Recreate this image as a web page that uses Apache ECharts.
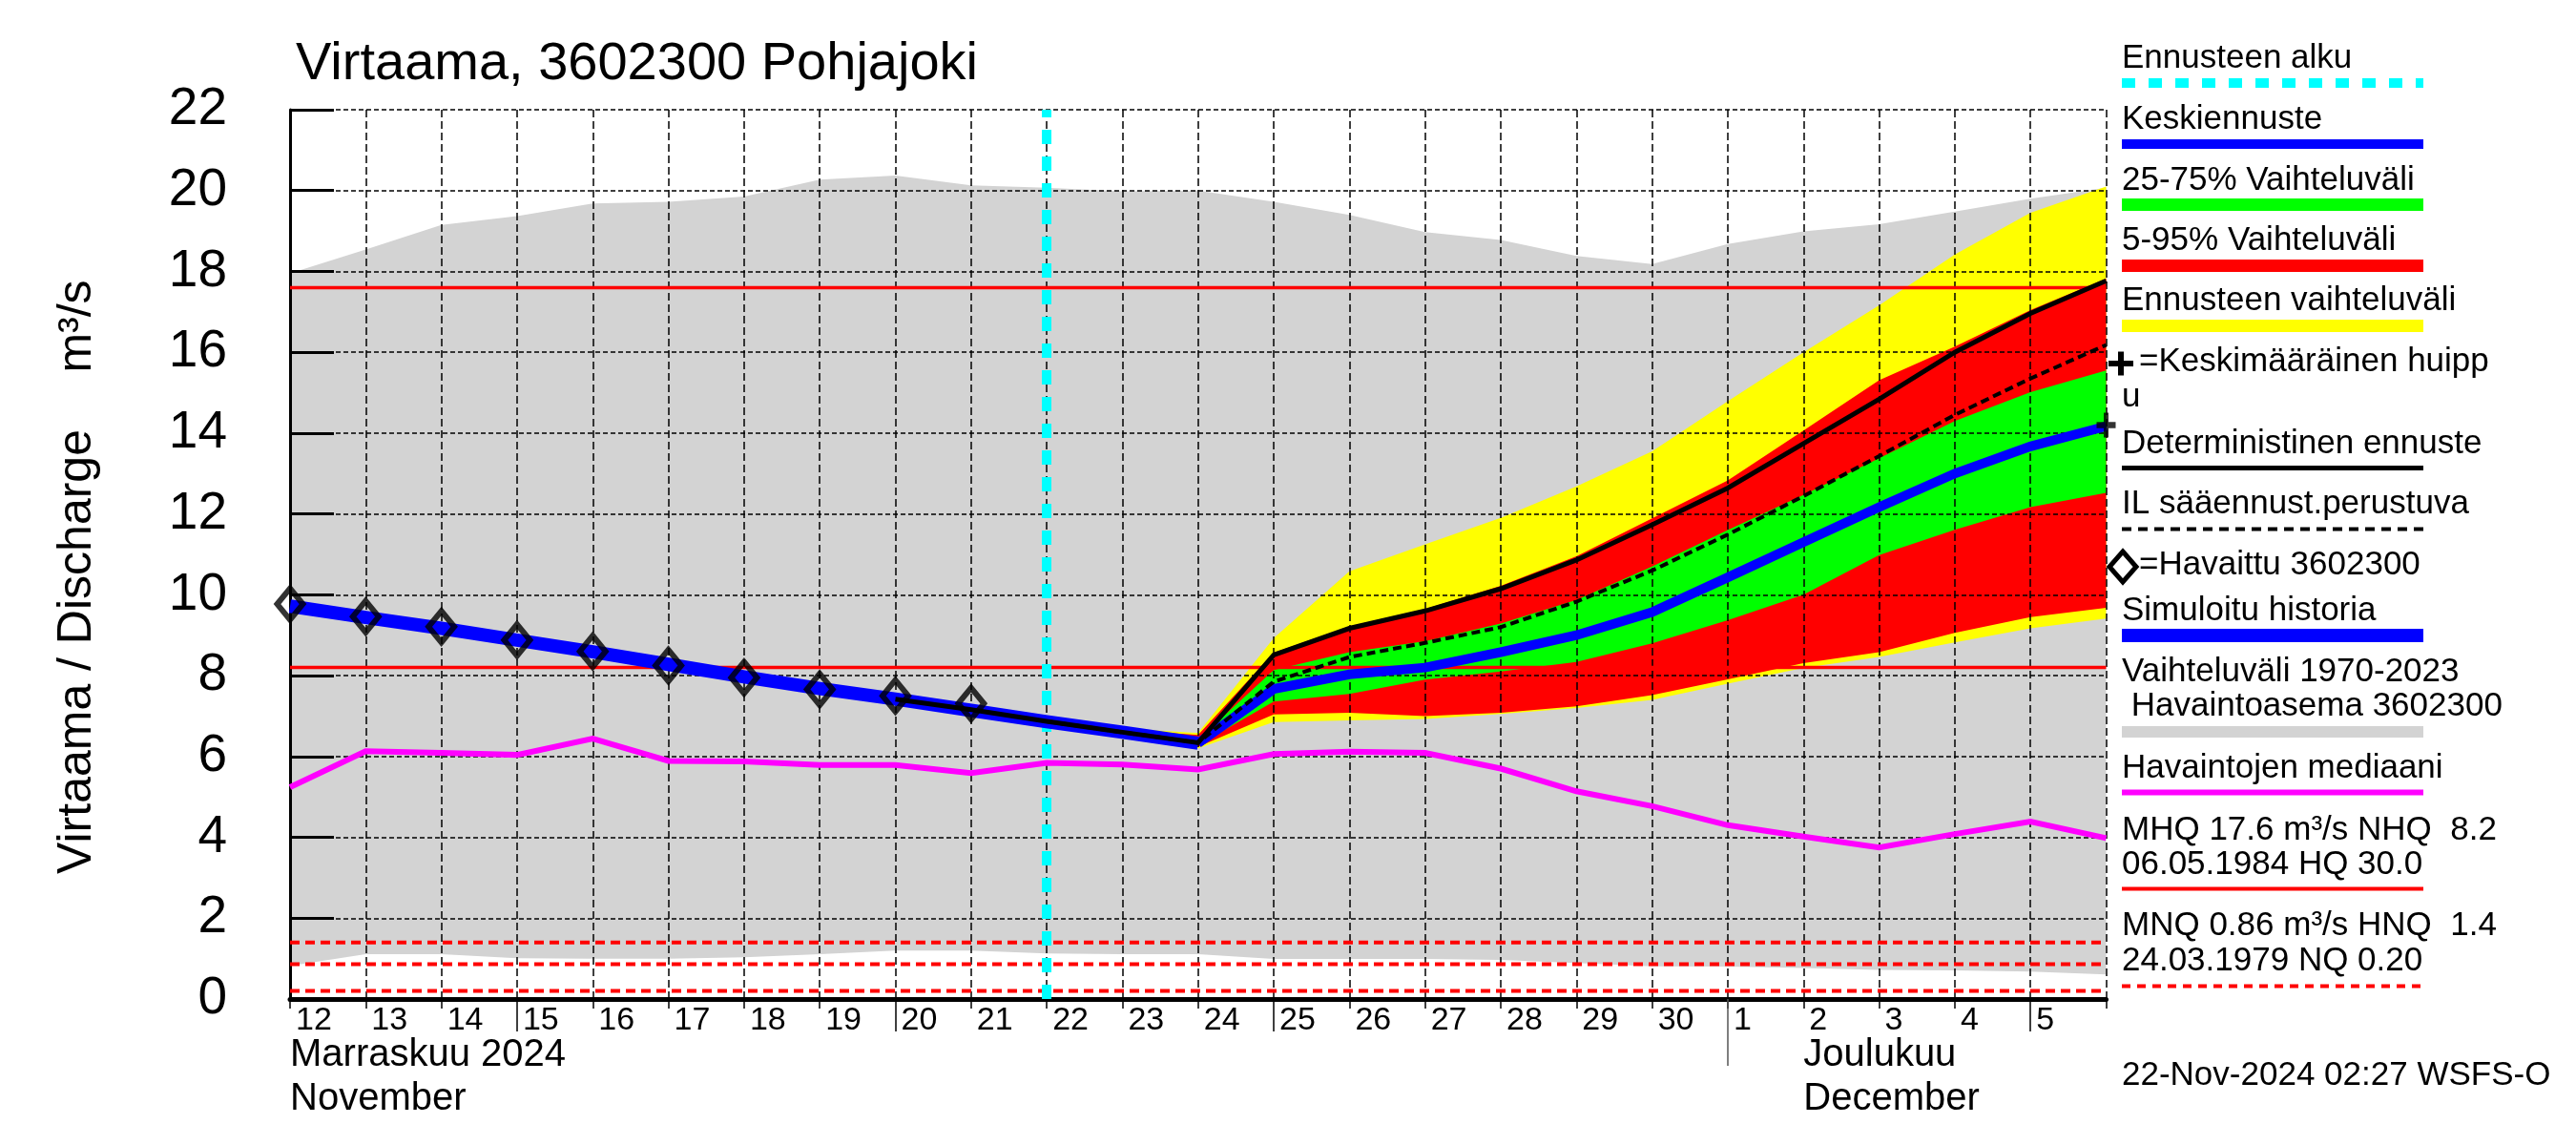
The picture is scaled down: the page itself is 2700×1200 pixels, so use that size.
<!DOCTYPE html>
<html><head><meta charset="utf-8">
<script src="https://cdn.jsdelivr.net/npm/echarts@6/dist/echarts.min.js"></script>
<style>html,body{margin:0;padding:0;background:#fff}#c{width:2700px;height:1200px}</style>
</head><body><div id="c"></div>
<script>
// ---------- data ----------
const dates = ['2024-11-12','2024-11-13','2024-11-14','2024-11-15','2024-11-16','2024-11-17','2024-11-18','2024-11-19','2024-11-20','2024-11-21','2024-11-22','2024-11-23','2024-11-24','2024-11-25','2024-11-26','2024-11-27','2024-11-28','2024-11-29','2024-11-30','2024-12-01','2024-12-02','2024-12-03','2024-12-04','2024-12-05','2024-12-06'];
const dayTickLabels = ['12','13','14','15','16','17','18','19','20','21','22','23','24','25','26','27','28','29','30','1','2','3','4','5',''];
const longTickDates = ['2024-11-15','2024-11-20','2024-11-25','2024-12-05'];
const monthBoundary = '2024-12-01';
const monthLabelDates = ['2024-11-12','2024-12-02'];
const monthLabels = ['Marraskuu 2024\nNovember','Joulukuu\nDecember'];
const forecastStart = '2024-11-22';

const histMax    = [17.95,18.54,19.15,19.37,19.68,19.72,19.85,20.27,20.37,20.13,20.07,19.98,20.0,19.72,19.4,18.97,18.78,18.38,18.18,18.68,18.99,19.17,19.48,19.8,20.07];
const histMin    = [0.82,1.11,1.11,1.01,1.0,1.0,1.03,1.11,1.2,1.2,1.13,1.11,1.11,0.99,0.99,0.99,0.97,0.89,0.81,0.8,0.77,0.72,0.71,0.68,0.61];
const histMedian = [5.24,6.13,6.09,6.04,6.44,5.89,5.88,5.79,5.79,5.59,5.84,5.8,5.68,6.06,6.12,6.09,5.7,5.14,4.77,4.3,4.02,3.75,4.08,4.39,3.98];
const N = null;
const observed      = [9.77,9.46,9.21,8.88,8.6,8.25,7.95,7.66,7.5,7.31,N,N,N,N,N,N,N,N,N,N,N,N,N,N,N];
const simulated     = [9.72,9.44,9.17,8.88,8.59,8.28,7.97,7.68,7.42,7.14,6.86,6.6,6.33,N,N,N,N,N,N,N,N,N,N,N,N];
const deterministic = [N,N,N,N,N,N,N,N,7.42,7.16,6.87,6.6,6.34,8.51,9.17,9.6,10.15,10.86,11.73,12.64,13.74,14.84,16.0,16.96,17.77];
const ilForecast    = [N,N,N,N,N,N,N,N,N,N,6.87,6.6,6.34,7.85,8.46,8.81,9.2,9.83,10.6,11.49,12.44,13.43,14.45,15.35,16.18];
const medianForecast= [N,N,N,N,N,N,N,N,N,N,N,N,6.33,7.67,8.03,8.2,8.58,9.0,9.57,10.43,11.3,12.17,13.0,13.67,14.17];
const rangeLow      = [N,N,N,N,N,N,N,N,N,N,6.86,6.55,6.2,6.85,6.89,6.93,7.05,7.2,7.4,7.8,8.19,8.46,8.82,9.17,9.41];
const rangeHigh     = [N,N,N,N,N,N,N,N,N,N,6.88,6.7,6.58,8.93,10.58,11.25,11.9,12.68,13.55,14.79,16.0,17.16,18.42,19.45,20.1];
const p5            = [N,N,N,N,N,N,N,N,N,N,6.86,6.56,6.24,7.04,7.08,7.0,7.08,7.24,7.52,7.91,8.31,8.58,9.06,9.45,9.68];
const p95           = [N,N,N,N,N,N,N,N,N,N,6.88,6.66,6.53,8.57,9.22,9.65,10.22,10.95,11.89,12.83,14.06,15.31,16.14,17.04,17.82];
const p25           = [N,N,N,N,N,N,N,N,N,N,6.87,6.58,6.28,7.36,7.55,7.9,8.1,8.34,8.8,9.37,10.0,10.98,11.61,12.17,12.52];
const p75           = [N,N,N,N,N,N,N,N,N,N,6.88,6.63,6.42,8.14,8.58,8.85,9.29,9.87,10.7,11.6,12.47,13.38,14.3,15.01,15.55];
const meanPeakDate = '2024-12-06', meanPeakValue = 14.2;
const MHQ = 17.6, NHQ = 8.2, HNQ = 1.4, MNQ = 0.86, NQ = 0.20;

// ---------- helpers ----------
const F = "'Liberation Sans', Arial, Helvetica, sans-serif";
const t0 = Date.parse(dates[0] + 'T00:00:00Z');
const dayIndex = d => (Date.parse(d + 'T00:00:00Z') - t0) / 864e5;
const xs = dates.map(dayIndex);
const X0 = xs[0], X1 = xs[xs.length - 1];
const pairs = arr => arr.map((v, i) => v == null ? null : [xs[i], v]).filter(Boolean);

// band polygon drawn through the library's coordinate system
function band(lo, hi, color, z) {
  const rows = xs.map((x, i) => (lo[i] == null || hi[i] == null) ? null : [x, lo[i], hi[i]]).filter(Boolean);
  return {
    type:'custom', silent:true, z, data:rows, encode:{x:0, y:[1,2]},
    renderItem:(params, api) => {
      if (params.dataIndex !== 0) return null;
      const top = rows.map(r => api.coord([r[0], r[2]]));
      const bot = rows.slice().reverse().map(r => api.coord([r[0], r[1]]));
      return {type:'polygon', shape:{points: top.concat(bot)}, style:{fill:color, stroke:null}};
    }
  };
}
function line(data, color, width, z, type) {
  return {type:'line', data, symbol:'none', silent:true, z,
    lineStyle:{color, width, type: type || 'solid', cap:'butt', join:'miter'}};
}
const hline = v => [[X0, v], [X1, v]];

// ---------- legend graphics ----------
const LX = 2224, LX2 = 2540;
const txt = (x, y, s, size) => ({type:'text', x, y, silent:true,
  style:{text:s, fontSize:size || 35, fontFamily:F, fill:'#000', align:'left', verticalAlign:'middle'}});
const seg = (y, color, w, dash) => ({type:'line', silent:true, shape:{x1:LX, y1:y, x2:LX2, y2:y},
  style:{stroke:color, lineWidth:w, lineDash:dash || null}});
const graphics = [
  {type:'text', x:310, y:67.5, silent:true, style:{text:'Virtaama, 3602300 Pohjajoki', fontSize:56, fontFamily:F, fill:'#000', verticalAlign:'middle'}},
  {type:'text', x:81.5, y:683, rotation:Math.PI/2, silent:true, style:{text:'Virtaama / Discharge', fontSize:50, fontFamily:F, fill:'#000', align:'center', verticalAlign:'middle'}},
  {type:'text', x:81.5, y:342, rotation:Math.PI/2, silent:true, style:{text:'m³/s', fontSize:50, fontFamily:F, fill:'#000', align:'center', verticalAlign:'middle'}},
  txt(LX, 61.5, 'Ennusteen alku'), seg(87, '#00ffff', 10, [14,14]),
  txt(LX, 125.5, 'Keskiennuste'), seg(151, '#0000ff', 10),
  txt(LX, 189.5, '25-75% Vaihteluväli'), seg(214.5, '#00ff00', 13),
  txt(LX, 252.5, '5-95% Vaihteluväli'), seg(278.5, '#ff0000', 13),
  txt(LX, 315.5, 'Ennusteen vaihteluväli'), seg(341.5, '#ffff00', 13),
  {type:'rect', silent:true, shape:{x:2210, y:378, width:26, height:6}, style:{fill:'#000'}},
  {type:'rect', silent:true, shape:{x:2220, y:368.5, width:6, height:25}, style:{fill:'#000'}},
  txt(2242, 379.5, '=Keskimääräinen huipp'), txt(LX, 416.5, 'u'),
  txt(LX, 465.5, 'Deterministinen ennuste'), seg(490.5, '#000', 5),
  txt(LX, 528.5, 'IL sääennust.perustuva'), seg(554.5, '#000', 4, [10,7]),
  {type:'polygon', silent:true, shape:{points:[[2225,578],[2239,594],[2225,610],[2211,594]]}, style:{fill:'none', stroke:'#000', lineWidth:5}},
  txt(2242, 592.5, '=Havaittu 3602300'),
  txt(LX, 640.5, 'Simuloitu historia'), seg(666, '#0000ff', 14),
  txt(LX, 704.5, 'Vaihteluväli 1970-2023'), txt(LX, 740.5, ' Havaintoasema 3602300'), seg(767, '#d3d3d3', 12),
  txt(LX, 805, 'Havaintojen mediaani'), seg(830.5, '#ff00ff', 6),
  txt(LX, 870, 'MHQ 17.6 m³/s NHQ  8.2'), txt(LX, 906.5, '06.05.1984 HQ 30.0'), seg(931.5, '#ff0000', 4),
  txt(LX, 970.5, 'MNQ 0.86 m³/s HNQ  1.4'), txt(LX, 1007.5, '24.03.1979 NQ 0.20'), seg(1033.5, '#ff0000', 4, [9,7]),
  txt(LX, 1127.5, '22-Nov-2024 02:27 WSFS-O')
];

// ---------- chart ----------
const chart = echarts.init(document.getElementById('c'), null, {renderer:'canvas'});
const option = {
  animation:false,
  backgroundColor:'#fff',
  grid:{left:304, right:492.5, top:115, bottom:153, containLabel:false},
  xAxis:[
    {type:'value', min:X0, max:X1, interval:1, position:'bottom', z:3,
     axisLine:{show:true, onZero:false, lineStyle:{color:'#000', width:5}},
     axisTick:{show:true, length:10, lineStyle:{color:'#000', width:1.5}},
     axisLabel:{formatter:v => dayTickLabels[Math.round(v)] || '', align:'left', verticalAlign:'middle',
       margin:23, padding:[0,0,0,6], fontSize:34, fontFamily:F, color:'#000', showMinLabel:true, showMaxLabel:true},
     splitLine:{show:true, lineStyle:{color:'#000', width:1.5, type:[8,4]}}},
    {type:'value', min:X0, max:X1, position:'bottom', z:3,
     axisLine:{show:false}, splitLine:{show:false}, axisLabel:{show:false},
     axisTick:{show:true, customValues:longTickDates.map(dayIndex), length:34, lineStyle:{color:'#000', width:1.5}}},
    {type:'value', min:X0, max:X1, position:'bottom', z:3,
     axisLine:{show:false}, splitLine:{show:false},
     axisTick:{show:true, customValues:[dayIndex(monthBoundary)], length:70, lineStyle:{color:'#555', width:1.5}},
     axisLabel:{show:true, customValues:monthLabelDates.map(dayIndex),
       formatter:v => monthLabels[monthLabelDates.map(dayIndex).indexOf(v)] || '',
       align:'left', verticalAlign:'top', margin:36, fontSize:40, lineHeight:46, fontFamily:F, color:'#000'}}
  ],
  yAxis:{type:'value', min:0, max:22, interval:2, z:3,
    axisLine:{show:true, lineStyle:{color:'#000', width:3}},
    axisTick:{show:true, inside:true, length:46, lineStyle:{color:'#000', width:3}},
    axisLabel:{fontSize:55, fontFamily:F, color:'#000', margin:66, verticalAlign:'middle', padding:[0,0,16,0]},
    splitLine:{show:true, lineStyle:{color:'#000', width:1.5, type:[5,3]}}},
  graphic:graphics,
  series:[
    band(histMin, histMax, '#d3d3d3', 1),
    band(rangeLow, rangeHigh, '#ffff00', 1),
    band(p5, p95, '#ff0000', 1),
    band(p25, p75, '#00ff00', 1),
    line(hline(MHQ), '#ff0000', 3.5, 4),
    line(hline(NHQ), '#ff0000', 3.5, 4),
    line(hline(HNQ), '#ff0000', 4, 4, [10,6]),
    line(hline(MNQ), '#ff0000', 4, 4, [10,6]),
    line(hline(NQ), '#ff0000', 4, 4, [10,6]),
    line(pairs(histMedian), '#ff00ff', 6, 5),
    line(pairs(simulated), '#0000ff', 14, 6),
    line(pairs(medianForecast), '#0000ff', 10, 6),
    line(pairs(ilForecast), '#000', 4, 7, [9,5]),
    line(pairs(deterministic), '#000', 5, 7),
    {type:'scatter', data:pairs(observed), symbol:'diamond', symbolSize:[27,33], silent:true, z:8,
     itemStyle:{color:'rgba(0,0,0,0)', borderColor:'#000', borderWidth:6}},
    {type:'scatter', data:[[dayIndex(meanPeakDate), meanPeakValue]], clip:false, silent:true, z:8,
     symbol:'path://M-1,-4L1,-4L1,-1L4,-1L4,1L1,1L1,4L-1,4L-1,1L-4,1L-4,-1L-1,-1Z', symbolSize:[20,26],
     itemStyle:{color:'#000'}},
    {type:'line', data:[], z:9, silent:true,
     markLine:{silent:true, symbol:'none', label:{show:false}, animation:false,
       lineStyle:{color:'#00ffff', width:10, type:[15,13]},
       data:[{xAxis:dayIndex(forecastStart)}]}}
  ]
};
chart.setOption(option);
</script></body></html>
